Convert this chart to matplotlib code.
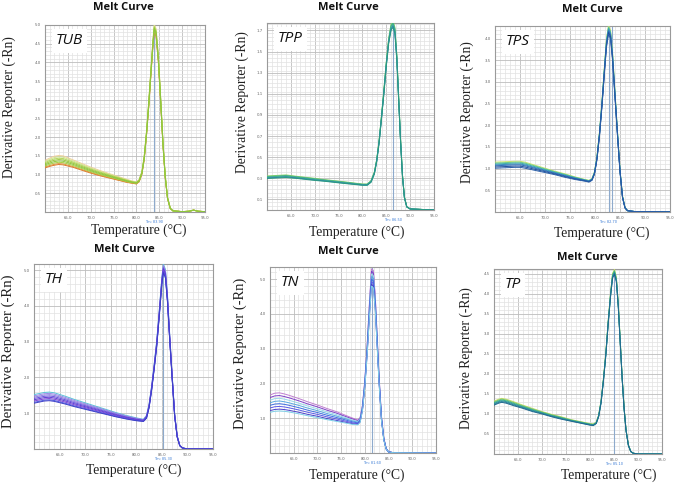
import matplotlib
matplotlib.use('Agg')
import matplotlib.pyplot as plt
import numpy as np

# ---- data (temperature in C, derivative reporter) ----
tub_t = [60, 61, 62, 63, 64, 66, 68, 70, 72, 74, 76, 78, 79, 80, 80.6, 81.2, 81.7, 82.2, 82.7, 83.2,
         83.6, 83.9, 84.3, 84.8, 85.3, 85.8, 86.3, 86.8, 87.4, 88, 90, 91.5, 92.5, 93.5, 95]
tub_y = [1.28, 1.33, 1.37, 1.39, 1.38, 1.30, 1.21, 1.12, 1.04, 0.97, 0.90, 0.83, 0.80, 0.78, 0.84, 1.05,
         1.45, 2.1, 2.9, 3.8, 4.5, 4.92, 4.8, 4.1, 3.0, 1.85, 0.95, 0.38, 0.1, 0.03, 0.01, 0.02, 0.05, 0.02, 0.01]
tub_spread = [0.10, 0.11, 0.12, 0.12, 0.12, 0.10, 0.09, 0.08, 0.07, 0.06, 0.05, 0.04, 0.03, 0.03, 0.03,
              0.04, 0.05, 0.06, 0.07, 0.08, 0.09, 0.10, 0.10, 0.09, 0.08, 0.06, 0.04, 0.02, 0.01, 0.0,
              0.0, 0.0, 0.0, 0.0, 0.0]

tpp_t = [60, 62, 64, 66, 68, 70, 72, 74, 76, 78, 80, 81, 81.8, 82.5, 83, 83.5, 84, 84.5, 85, 85.5,
         86, 86.4, 86.8, 87.2, 87.6, 88, 88.4, 88.8, 89.3, 90, 95]
tpp_y = [0.31, 0.315, 0.32, 0.31, 0.30, 0.29, 0.28, 0.27, 0.26, 0.25, 0.24, 0.24, 0.27, 0.35, 0.47, 0.65,
         0.88, 1.12, 1.38, 1.6, 1.73, 1.76, 1.7, 1.45, 1.05, 0.65, 0.32, 0.12, 0.03, 0.01, 0.0]
tpp_spread = [0.012, 0.012, 0.012, 0.01, 0.01, 0.01, 0.008, 0.008, 0.008, 0.007, 0.006, 0.006, 0.008,
              0.01, 0.012, 0.015, 0.018, 0.02, 0.022, 0.025, 0.03, 0.03, 0.03, 0.025, 0.02, 0.015,
              0.01, 0.005, 0.002, 0.0, 0.0]

tps_t = [60, 62, 64, 65, 66, 68, 70, 72, 74, 76, 78, 78.8, 79.4, 79.9, 80.4, 80.9, 81.4, 81.9, 82.3, 82.7,
         83.1, 83.5, 84, 84.5, 85, 85.5, 86, 86.5, 88, 95]
tps_y = [1.08, 1.09, 1.10, 1.10, 1.08, 1.02, 0.96, 0.90, 0.84, 0.78, 0.73, 0.71, 0.75, 0.9, 1.25, 1.8,
         2.5, 3.3, 3.9, 4.2, 4.1, 3.6, 2.7, 1.8, 0.95, 0.35, 0.1, 0.03, 0.01, 0.0]
tps_spread = [0.07, 0.07, 0.07, 0.07, 0.07, 0.06, 0.05, 0.04, 0.04, 0.03, 0.02, 0.02, 0.02, 0.03, 0.04,
              0.05, 0.06, 0.08, 0.10, 0.10, 0.10, 0.09, 0.07, 0.05, 0.03, 0.02, 0.01, 0.0, 0.0, 0.0]

th_t = [60, 61, 62, 63, 64, 66, 68, 70, 72, 74, 76, 78, 80, 81.4, 82, 82.5, 83, 83.5, 84, 84.5,
        85, 85.3, 85.7, 86.1, 86.5, 87, 87.5, 88, 88.5, 89, 90, 95]
th_y = [1.40, 1.43, 1.46, 1.47, 1.45, 1.37, 1.28, 1.20, 1.12, 1.04, 0.96, 0.89, 0.83, 0.80, 0.9, 1.2,
        1.7, 2.3, 2.95, 3.8, 4.7, 5.05, 4.9, 4.2, 3.2, 2.05, 0.95, 0.35, 0.1, 0.03, 0.0, 0.0]
th_spread = [0.12, 0.12, 0.12, 0.12, 0.12, 0.11, 0.10, 0.09, 0.08, 0.07, 0.06, 0.05, 0.04, 0.03, 0.04,
             0.05, 0.06, 0.07, 0.08, 0.09, 0.10, 0.12, 0.12, 0.10, 0.08, 0.06, 0.04, 0.02, 0.01, 0.0,
             0.0, 0.0]

tn_t = [60, 61, 62, 63, 64, 66, 68, 70, 72, 74, 76, 77.5, 78.5, 79, 79.5, 80, 80.5, 81, 81.4, 81.8,
        82.2, 82.6, 83, 83.5, 84, 84.5, 85, 86, 95]
tn_y = [1.42, 1.46, 1.47, 1.45, 1.42, 1.35, 1.27, 1.20, 1.12, 1.05, 0.97, 0.91, 0.88, 0.95, 1.3, 2.0,
        3.0, 4.2, 5.05, 5.0, 4.3, 3.2, 2.1, 1.0, 0.4, 0.12, 0.03, 0.01, 0.0]
tn_spread = [0.25, 0.26, 0.26, 0.25, 0.24, 0.22, 0.20, 0.18, 0.16, 0.14, 0.11, 0.09, 0.07, 0.07, 0.08,
             0.10, 0.15, 0.20, 0.25, 0.25, 0.20, 0.15, 0.10, 0.06, 0.03, 0.01, 0.0, 0.0, 0.0]

tp_t = [60, 61, 61.6, 62.5, 64, 66, 68, 70, 72, 74, 76, 78, 80, 80.7, 81.3, 81.8, 82.3, 82.8, 83.3, 83.8,
        84.3, 84.7, 85.1, 85.5, 85.9, 86.3, 86.7, 87.1, 87.5, 88, 88.5, 89, 90, 95]
tp_y = [1.27, 1.32, 1.34, 1.32, 1.26, 1.18, 1.10, 1.03, 0.96, 0.90, 0.84, 0.79, 0.74, 0.73, 0.78, 0.95,
        1.3, 1.85, 2.5, 3.3, 4.0, 4.45, 4.55, 4.35, 3.7, 2.8, 1.9, 1.15, 0.6, 0.22, 0.06, 0.02, 0.0, 0.0]
tp_spread = [0.05, 0.05, 0.05, 0.05, 0.05, 0.04, 0.04, 0.03, 0.03, 0.03, 0.02, 0.02, 0.02, 0.02, 0.02,
             0.02, 0.03, 0.03, 0.04, 0.04, 0.05, 0.06, 0.06, 0.06, 0.05, 0.04, 0.03, 0.02, 0.01, 0.01,
             0.0, 0.0, 0.0, 0.0]

genes = ['TUB', 'TPP', 'TPS', 'TH', 'TN', 'TP']
tm_values = [[83.9], [86.5], [82.7, 83.3], [85.3], [81.6], [85.1]]
y_tops = [5.0, 1.77, 4.29, 5.17, 5.35, 4.62]
y_ticks = [np.arange(0.5, 5.01, 0.5), np.arange(0.1, 1.71, 0.2), np.arange(0.5, 4.01, 0.5),
           np.arange(1.0, 5.01, 1.0), np.arange(1.0, 5.01, 1.0), np.arange(0.5, 4.51, 0.5)]
x_ticks = [65, 70, 75, 80, 85, 90, 95]

# relative position of each replicate inside the spread band, and its colour (drawn in this order)
rep_pos = [
    [-1.0, -0.8, 1.0, 0.7, 0.4, -0.5, 0.1, -0.2],
    [1.0, 0.6, 0.2, -0.2, -0.6, -1.0],
    [1.0, 0.7, 0.4, 0.1, -0.2, -0.6, -1.0],
    [1.0, 0.7, 0.4, 0.1, -0.2, -0.5, -0.8, -1.0],
    [1.0, 0.7, 0.4, 0.1, -0.2, -0.5, -0.8, -1.0],
    [1.0, 0.6, 0.2, -0.2, -0.6, -1.0],
]
rep_colours = [
    ['#d9782a', '#e0903c', '#f0cf9a', '#cfe48c', '#b3d65a', '#a8d042', '#9cc83a', '#8cc63f'],
    ['#8fd36a', '#5cc07a', '#3aa88c', '#43b59a', '#2e7fb0', '#2a9a80'],
    ['#c9e56e', '#6cc98a', '#3fb0a5', '#3a8fc2', '#2d6cb5', '#1f4e9c', '#2a5fa8'],
    ['#58c3d8', '#9a8ae6', '#8a7fe0', '#6a4fe0', '#5a3fd0', '#7d3fd8', '#4a5ae0', '#3f3fc8'],
    ['#c080d0', '#7f3fc8', '#9ad8ea', '#58a8e0', '#3f6ee0', '#5a5ae6', '#4a3fc8', '#7dd0e8'],
    ['#c8df6a', '#7cc66a', '#3fb08a', '#2a9a96', '#2a7f9e', '#1f6a8e'],
]

curves = [(tub_t, tub_y, tub_spread), (tpp_t, tpp_y, tpp_spread), (tps_t, tps_y, tps_spread),
          (th_t, th_y, th_spread), (tn_t, tn_y, tn_spread), (tp_t, tp_y, tp_spread)]

# ---- layout in pixels (left, top, right, bottom) ----
W, H = 685, 483
axes_px = [(45, 25, 205, 212), (267, 23, 434, 210), (495, 26, 670, 212),
           (34, 264, 213, 449), (270, 267, 436, 453), (494, 269, 662, 454)]
title_px = [(123, 8), (348, 7), (592, 9), (124, 249), (348, 252), (587, 257)]
ylabel_px = [(9, 107, 9.8), (242, 102, 9.8), (467, 112, 9.8),
             (8, 351, 10.6), (240, 353, 10.5), (466, 358, 9.8)]
xlabel_px = [(139, 230), (357, 232), (602, 233), (134, 470), (357, 475), (609, 475)]


def add_panel(fig, i):
    l, t, r, b = axes_px[i]
    ax = fig.add_axes([l / W, 1 - b / H, (r - l) / W, (b - t) / H])
    temps, mean, spread = curves[i]
    mean = np.array(mean)
    spread = np.array(spread)
    for pos, col in zip(rep_pos[i], rep_colours[i]):
        ax.plot(temps, mean + pos * spread, color=col, lw=0.7, zorder=3)

    ymax = y_tops[i]
    step = y_ticks[i][1] - y_ticks[i][0]
    ax.set_xlim(60, 95)
    ax.set_ylim(0, ymax)
    ax.set_xticks(x_ticks)
    ax.set_xticklabels(['%.1f' % v for v in x_ticks])
    ax.set_yticks(y_ticks[i])
    ax.set_yticklabels(['%.1f' % v for v in y_ticks[i]])
    ax.set_xticks(np.arange(60, 95.1, 1.0), minor=True)
    ax.set_yticks(np.arange(0, ymax, step / 5), minor=True)
    ax.tick_params(which='both', length=0, labelsize=2.8, labelcolor='#666666', pad=3)
    ax.grid(which='minor', color='#e2e2e2', lw=0.5, zorder=0)
    ax.grid(which='major', color='#bdbdbd', lw=0.6, zorder=0)
    for s in ax.spines.values():
        s.set_color('#9a9a9a')
        s.set_linewidth(0.8)

    for tm in tm_values[i]:
        ax.axvline(tm, color='#8eaacc', lw=0.8, zorder=2)
    ax.text(tm_values[i][0], -0.045, 'Tm: %.2f' % tm_values[i][0], transform=ax.get_xaxis_transform(),
            ha='center', va='top', fontsize=2.5, color='#3a7bd5')

    ax.annotate(genes[i], xy=(0, 1), xycoords='axes fraction', xytext=(8, -11.5),
                textcoords='offset points', ha='left', va='center', fontsize=11,
                family='Open Sans', style='italic', color='#111111', zorder=5,
                bbox=dict(facecolor='white', edgecolor='none', pad=3))

    fig.text(title_px[i][0] / W, 1 - title_px[i][1] / H, 'Melt Curve', ha='center', va='center',
             fontsize=8, fontweight='bold', family='Open Sans', color='#111111')
    x, y, fs = ylabel_px[i]
    fig.text(x / W, 1 - y / H, 'Derivative Reporter (-Rn)', rotation=90, ha='center', va='center',
             fontsize=fs, family='Liberation Serif', color='#222222')
    fig.text(xlabel_px[i][0] / W, 1 - xlabel_px[i][1] / H, 'Temperature (\u00b0C)', ha='center',
             va='center', fontsize=9.8, family='Liberation Serif', color='#222222')
    return ax


fig = plt.figure(figsize=(W / 100, H / 100), dpi=100)
for i in range(6):
    add_panel(fig, i)
fig.savefig('out.png', dpi=100, facecolor='white')
